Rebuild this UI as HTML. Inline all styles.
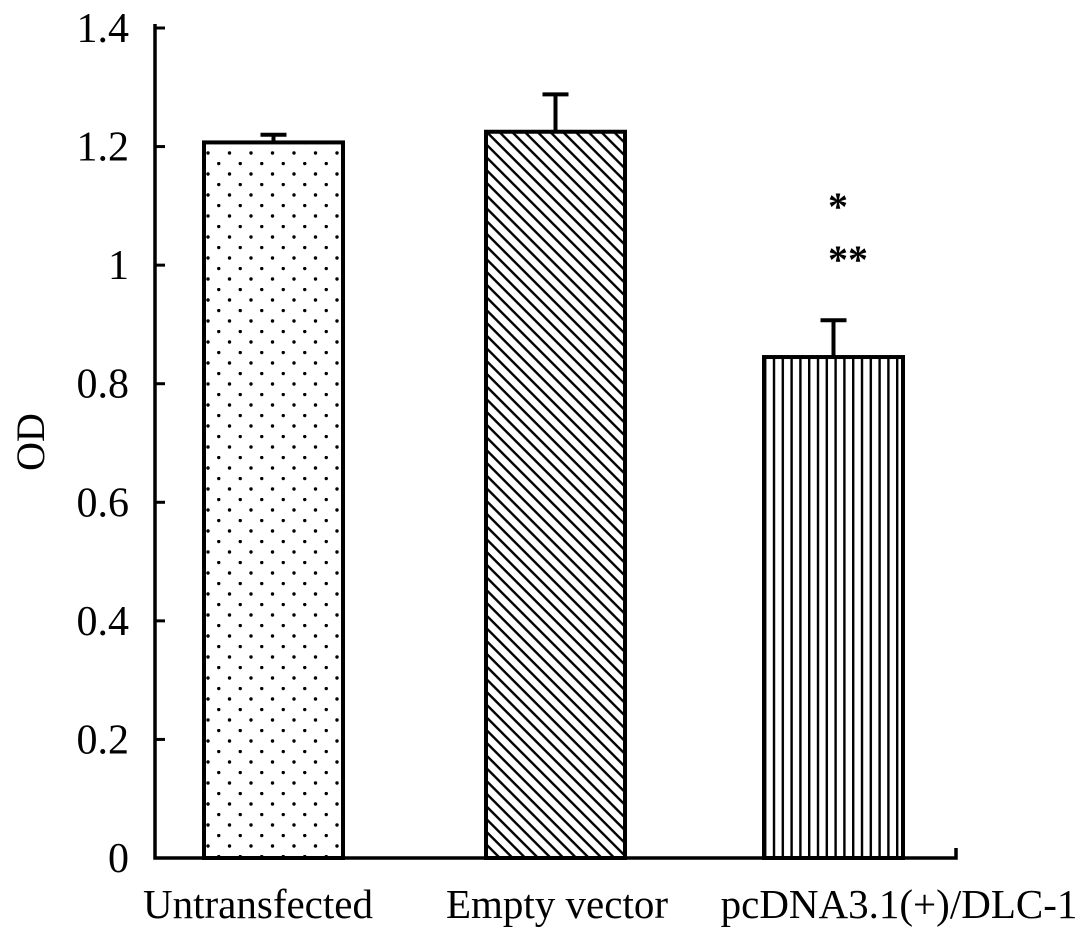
<!DOCTYPE html>
<html><head><meta charset="utf-8"><style>
html,body{margin:0;padding:0;background:#fff;}
svg text{font-family:"Liberation Serif",serif;fill:#000;}
</style></head><body>
<svg id="chart" width="1087" height="940" viewBox="0 0 1087 940" xmlns="http://www.w3.org/2000/svg">
<defs>
<pattern id="dots" width="21.5" height="21" patternUnits="userSpaceOnUse" x="204" y="141">
<circle cx="4" cy="12" r="1.7" fill="#000"/><circle cx="14.75" cy="1.5" r="1.7" fill="#000"/>
</pattern>
<pattern id="diag" width="9" height="9" patternUnits="userSpaceOnUse" patternTransform="rotate(45)">
<rect x="0" y="0" width="9" height="2.4" fill="#000"/>
</pattern>
<pattern id="vert" width="8.8" height="10" patternUnits="userSpaceOnUse" x="764">
<rect x="0" y="0" width="2.4" height="10" fill="#000"/>
</pattern>
</defs>
<g id="plot"></g>
</svg>
<script>
const categories = ["Untransfected","Empty vector","pcDNA3.1(+)/DLC-1"];
const values = [1.207, 1.225, 0.845];
const errors = [0.013, 0.063, 0.062];
const yTicks = [0,0.2,0.4,0.6,0.8,1,1.2,1.4];
const yTickLabels = ["0","0.2","0.4","0.6","0.8","1","1.2","1.4"];
const fills = ["url(#dots)","url(#diag)","url(#vert)"];

const NS="http://www.w3.org/2000/svg";
const g=document.getElementById('plot');
const x0=155, x1=956, yBase=858, yTop=28;
const y=v=>yBase-(v/1.4)*(yBase-yTop);
const bandStart=[204,486,764], barW=139;
const labelCenter=[258,557,899];
const xCenter=i=>bandStart[i]+barW/2;
function el(t,a,p){const e=document.createElementNS(NS,t);for(const k in a)e.setAttribute(k,a[k]);(p||g).appendChild(e);return e;}

categories.forEach((c,i)=>{
  const b=el('rect',{x:bandStart[i],y:y(values[i]),width:barW,height:yBase-y(values[i]),fill:'#fff',stroke:'none'});
  
  
  const p=el('rect',{x:bandStart[i],y:y(values[i]),width:barW,height:yBase-y(values[i]),fill:fills[i],stroke:'#000','stroke-width':4});
  
  
  const cx=xCenter(i), top=y(values[i]+errors[i]);
  const e=el('path',{d:`M${cx} ${y(values[i])}V${top}M${cx-13} ${top}H${cx+13}`,stroke:'#000','stroke-width':4,fill:'none'});
  
  
  const t=el('text',{x:labelCenter[i],y:918,'font-size':41,'text-anchor':'middle'});
  t.textContent=c;
  
  
});
const ax=el('path',{d:`M${x0} ${yTop-4}V${yBase}H${x1}V${yBase-10}`,stroke:'#000','stroke-width':3.5,fill:'none'});


yTicks.forEach((v,i)=>{
  const tk=el('line',{x1:x0,x2:x0+10,y1:y(v),y2:y(v),stroke:'#000','stroke-width':3});
  
  
  const t=el('text',{x:x0-26,y:y(v)+14,'font-size':42,'text-anchor':'end'});
  t.textContent=yTickLabels[i];
  
  
});
const yt=el('text',{x:44,y:442,'font-size':40,'text-anchor':'middle',transform:'rotate(-90 44 442)'});
yt.textContent='OD';


const s1=el('text',{x:838,y:220,'font-size':40,'font-weight':'bold','text-anchor':'middle','font-family':'Liberation Sans, sans-serif'});
s1.textContent='*';


const s2=el('text',{x:848,y:273,'font-size':40,'font-weight':'bold','text-anchor':'middle','font-family':'Liberation Sans, sans-serif'});
s2.textContent='**';


</script>
</body></html>
